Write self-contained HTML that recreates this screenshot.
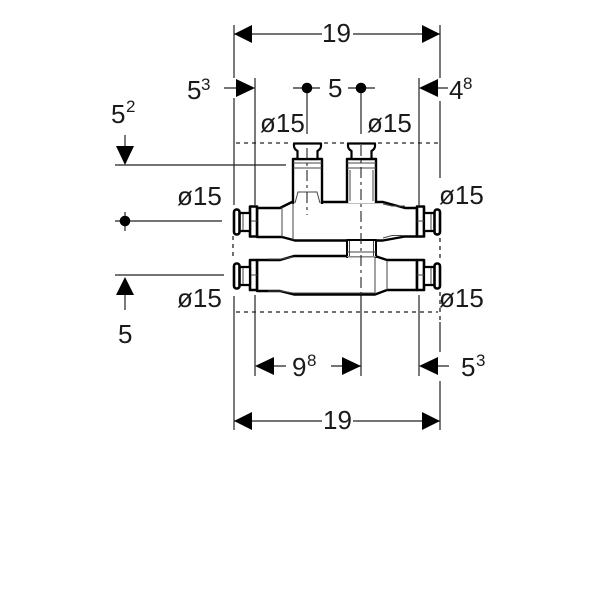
<!DOCTYPE html>
<html><head><meta charset="utf-8"><style>
html,body{margin:0;padding:0;background:#fff;width:600px;height:600px;overflow:hidden}
svg{display:block}
text{font-family:"Liberation Sans",sans-serif;fill:#1a1a1a}
.d{font-size:26px}.s{font-size:17px}
</style></head><body>
<svg width="600" height="600" viewBox="0 0 600 600" xmlns="http://www.w3.org/2000/svg">
<rect width="600" height="600" fill="#fff"/>
<!-- extension lines -->
<g stroke="#222" stroke-width="1.2" fill="none">
<path d="M234 25V78M234 98V205M234 296V430M255 78V205M255 295V376M419 78V205M419 295V376M440 25V78M440 101V178M440 322V352M440 381V430"/>
<path d="M234 34H322M353 34H440M234 421H322M353 421H440"/>
<path d="M224 88H238M293 88H320M348 88H375M436 88H448"/>
<path d="M272 366H286M331 366H361M436 366H449"/>
<path d="M307 88V134M361 88V134M115 165H286M115 221H222M115 275H224M125 212V231M125 135V148M125 294V310"/>
<path d="M361 295V376"/>
</g>
<g stroke="#222" stroke-width="1.3" fill="none" stroke-dasharray="4 4">
<path d="M236 143H292M324 143H346M378 143H438M236 312H438M233 236V258M440 238V258M440 292V320"/>
</g>
<!-- arrows -->
<g fill="#000">
<path d="M234 34L252 25V43ZM440 34L422 25V43ZM234 421L252 412V430ZM440 421L422 412V430Z"/>
<path d="M255 88L236 79V97ZM419 88L438 79V97Z"/>
<path d="M125 165L116 146H134ZM125 277L116 295H134Z"/>
<path d="M255 366L274 357V375ZM361 366L342 357V375ZM419 366L438 357V375Z"/>
<circle cx="307" cy="88" r="5.3"/><circle cx="361" cy="88" r="5.3"/><circle cx="125" cy="221" r="5.3"/>
</g>
<!-- fitting -->
<g fill="#fff" stroke="#000" stroke-linejoin="round">
<path d="M257 208H280L292 202H383L405 208H417V236.500H405L383 240.500H295L282 237H257Z" stroke-width="2.400"/>
<path d="M257 260H280L294 256H375L387 260H417V290H387L375 294.500H294L280 291H257Z" stroke-width="2.400"/>
<!-- lower port between pipes -->
<rect x="347" y="240" width="29" height="17" stroke-width="2"/>
<path d="M348 256.500H375" stroke="#fff" stroke-width="2.500"/>
<path d="M347 256.500H376" stroke="#888" stroke-width="1"/>
<!-- upper ports -->
<path d="M293 204V159H322V204" stroke-width="2.400"/>
<path d="M347 203V159H376V203" stroke-width="2.400"/>
<path d="M294 143.500H321V146Q321 149 317.500 151V159H297.500V151Q294 149 294 146Z" stroke-width="2.200"/>
<path d="M348 143.500H375V146Q375 149 371.500 151V159H351.500V151Q348 149 348 146Z" stroke-width="2.200"/>
<!-- collars -->
<rect x="250" y="206.500" width="7" height="30" stroke-width="2.600"/>
<rect x="250" y="260" width="7" height="30" stroke-width="2.600"/>
<rect x="417" y="206.500" width="7" height="30" stroke-width="2.600"/>
<rect x="417" y="260" width="7" height="30" stroke-width="2.600"/>
<!-- necks -->
<path d="M239 213H250V231H239Z" stroke-width="2.200"/>
<path d="M239 267H250V285H239Z" stroke-width="2.200"/>
<path d="M424 213H435V231H424Z" stroke-width="2.200"/>
<path d="M424 267H435V285H424Z" stroke-width="2.200"/>
<!-- caps -->
<rect x="234" y="209.500" width="5.500" height="25" rx="2.500" stroke-width="2.600"/>
<rect x="234" y="263.500" width="5.500" height="25" rx="2.500" stroke-width="2.600"/>
<rect x="434.500" y="209.500" width="5.500" height="25" rx="2.500" stroke-width="2.600"/>
<rect x="434.500" y="263.500" width="5.500" height="25" rx="2.500" stroke-width="2.600"/>
</g>
<!-- detail lines -->
<g stroke="#444" stroke-width="1" fill="none">
<path d="M293 168H322M293 163H322M347 168H376M347 163H376"/>
<path d="M295 203L298 192H317L320 203"/>
<path d="M282 207V237M293 203V240"/>
<path d="M375 257V294M387 261V290M268 259H281L293 257M268 291H281L293 293H375"/>
<path d="M383 204L392 206H405M383 238L392 235.500H405"/>
<path d="M251 221H257M251 275H257M417 221H424M417 275H424"/>
<path d="M349.500 241V256M373.500 241V256M347 252H376M350 170V201M373 170V201"/>
<path d="M243 214V230M243 268V284M431 214V230M431 268V284"/>
</g>
<g stroke="#222" stroke-width="1.100" fill="none" stroke-dasharray="11 4 3 4">
<path d="M307 148V215M361 145V296"/>
</g>
<!-- labels -->
<g>
<text class="d" x="322" y="42">19</text>
<text class="d" x="323" y="429">19</text>
<text class="d" x="187" y="99">5</text><text class="s" x="201" y="90">3</text>
<text class="d" x="328" y="97">5</text>
<text class="d" x="449" y="99">4</text><text class="s" x="463" y="89">8</text>
<text class="d" x="111" y="123">5</text><text class="s" x="126" y="112">2</text>
<text class="d" x="260" y="132">ø15</text>
<text class="d" x="367" y="132">ø15</text>
<text class="d" x="177" y="205">ø15</text>
<text class="d" x="439" y="204">ø15</text>
<text class="d" x="177" y="307">ø15</text>
<text class="d" x="439" y="307">ø15</text>
<text class="d" x="118" y="343">5</text>
<text class="d" x="292" y="376">9</text><text class="s" x="307" y="366">8</text>
<text class="d" x="461" y="376">5</text><text class="s" x="476" y="366">3</text>
</g>
</svg>
</body></html>
